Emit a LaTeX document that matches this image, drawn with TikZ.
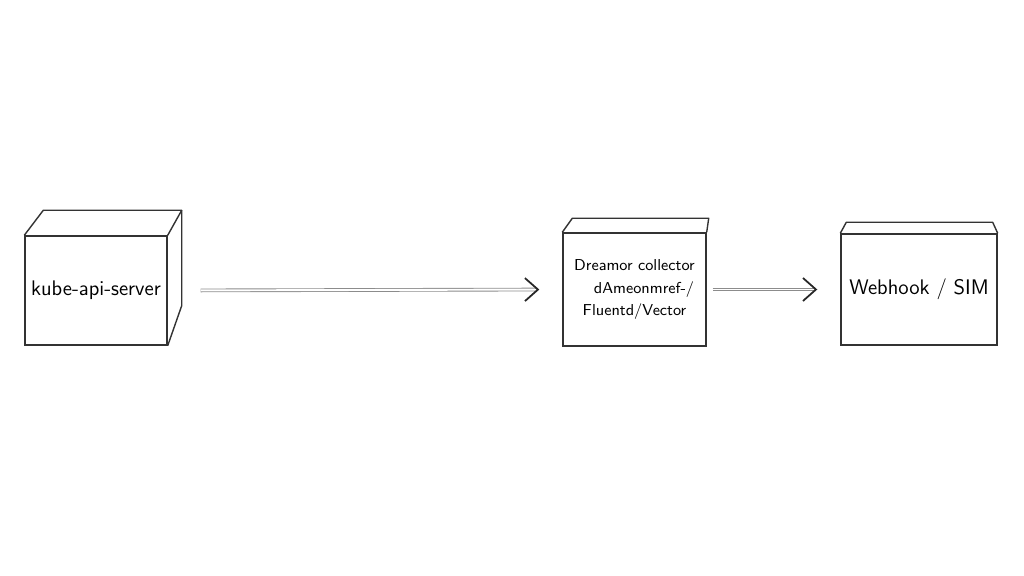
\documentclass[tikz,border=0pt]{standalone}
\usepackage{tikz}
\usetikzlibrary{arrows.meta, positioning, calc}

\tikzset{
  box/.style={draw=black!80, line width=0.8pt, fill=white, inner sep=2pt, font=\sffamily},
  back/.style={draw=black!80, line width=0.8pt, line join=round},
  flow/.style={draw=black!45, double=white, double distance=1.1pt, line width=0.5pt,
    -{Straight Barb[length=2.6mm, width=4.6mm, line width=1pt, color=black!85]}}
}

\begin{document}
\begin{tikzpicture}
\useasboundingbox (0,0) rectangle (20.48,11.52);

% kube-api-server
\node[box, minimum width=2.84cm, minimum height=2.18cm, font=\sffamily\large] (api) at (1.92,5.71) {kube-api-server};
\draw[back] (api.north west) -- ++(0.38,0.5) -| ($(api.south east)+(0.28,0.8)$) -- (api.south east);
\draw[back] (api.north east) -- ++(0.28,0.5);

% collector
\node[box, minimum width=2.86cm, minimum height=2.26cm, align=center, font=\sffamily\small] (coll) at (12.69,5.73)
  {Dreamor collector\\[2pt] \hspace*{1.2em}dAmeonmref-/\\[2pt] Fluentd/Vector};
\draw[back] (coll.north west) -- ++(0.2,0.28) -- ($(coll.north east)+(0.04,0.28)$) -- (coll.north east);

% webhook / SIM
\node[box, minimum width=3.12cm, minimum height=2.22cm, font=\sffamily\large] (sim) at (18.38,5.73) {Webhook / SIM};
\draw[back] (sim.north west) -- ++(0.12,0.22) -- ($(sim.north east)+(-0.1,0.22)$) -- (sim.north east);

% flows
\draw[flow, shorten <=0.66cm, shorten >=0.46cm] (api.east) -- (coll.west);
\draw[flow, shorten <=0.12cm, shorten >=0.46cm] (coll.east) -- (sim.west);
\end{tikzpicture}
\end{document}
